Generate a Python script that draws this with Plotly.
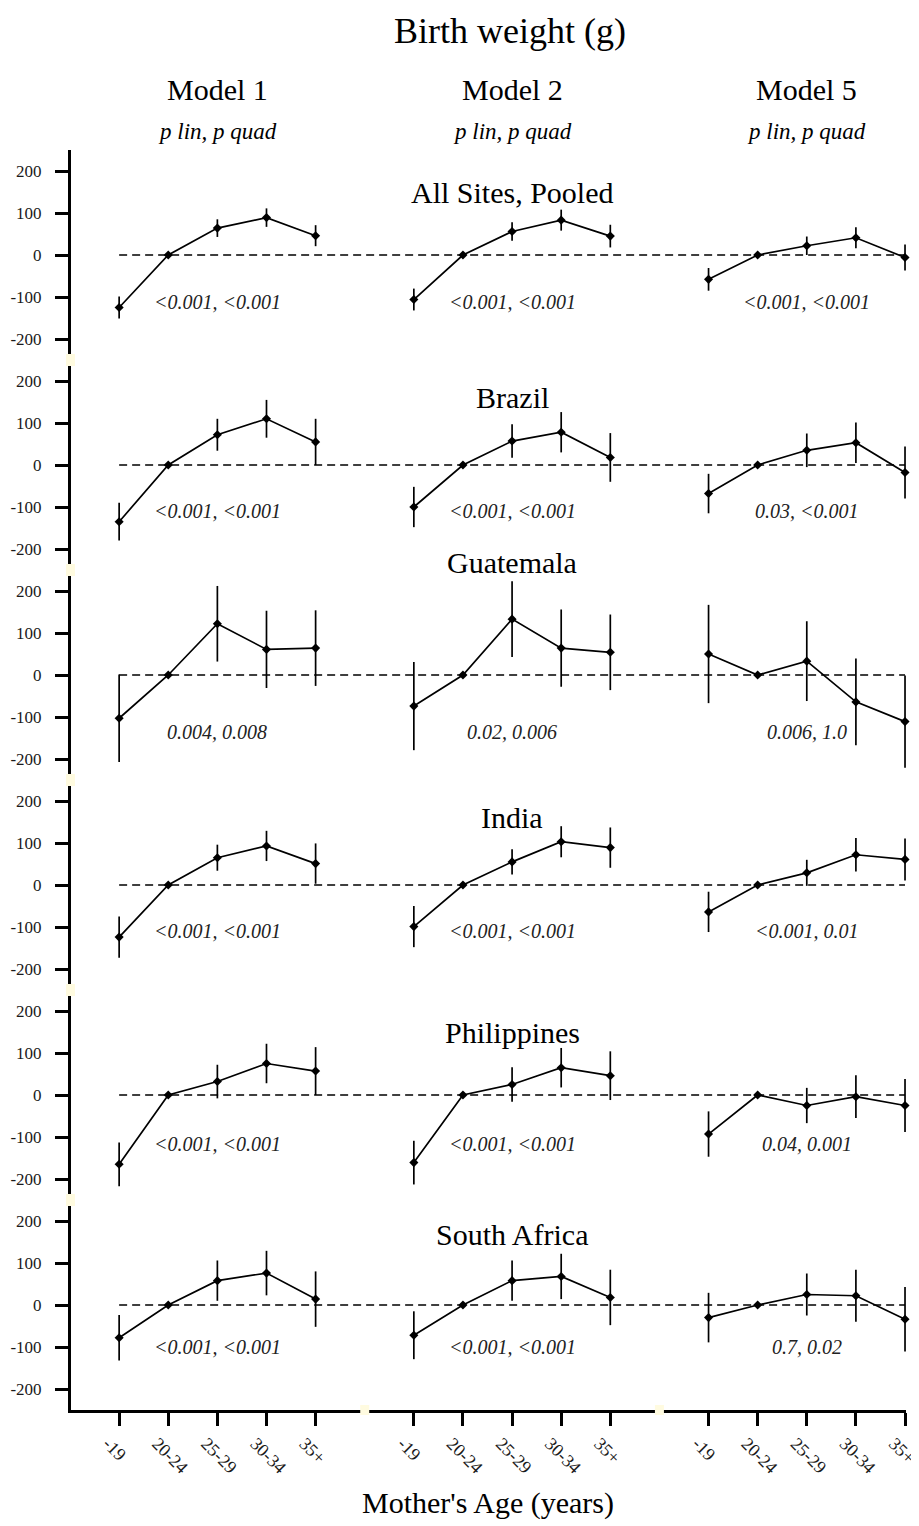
import plotly.graph_objects as go
from plotly.subplots import make_subplots

# ---------------- data ----------------
age_groups = ["-19", "20-24", "25-29", "30-34", "35+"]
models = ["Model 1", "Model 2", "Model 5"]
sites = ["All Sites, Pooled", "Brazil", "Guatemala", "India", "Philippines", "South Africa"]

# estimates (g) per model [Model 1, Model 2, Model 5], age groups in order
pooled_est = [[-125, 0, 64, 89, 46], [-106, 0, 56, 83, 45], [-58, 0, 22, 41, -6]]
pooled_err = [[26, 0, 21, 22, 25], [26, 0, 22, 25, 27], [27, 0, 22, 25, 31]]

brazil_est = [[-135, 0, 72, 110, 55], [-100, 0, 57, 78, 18], [-68, 0, 35, 53, -18]]
brazil_err = [[45, 0, 38, 45, 55], [48, 0, 40, 48, 58], [47, 0, 40, 48, 62]]

guatemala_est = [[-103, 0, 122, 61, 64], [-74, 0, 133, 64, 54], [50, 0, 33, -64, -111]]
guatemala_err = [[104, 0, 90, 92, 90], [105, 0, 90, 92, 90], [117, 0, 95, 103, 110]]

india_est = [[-124, 0, 65, 93, 51], [-99, 0, 55, 103, 89], [-64, 0, 29, 72, 61]]
india_err = [[49, 0, 31, 36, 48], [49, 0, 30, 37, 48], [48, 0, 31, 40, 50]]

philippines_est = [[-165, 0, 32, 75, 57], [-161, 0, 25, 65, 46], [-93, 0, -25, -4, -25]]
philippines_err = [[52, 0, 40, 47, 57], [52, 0, 41, 47, 58], [54, 0, 42, 51, 63]]

southafrica_est = [[-78, 0, 58, 76, 14], [-72, 0, 58, 68, 18], [-30, 0, 25, 22, -34]]
southafrica_err = [[54, 0, 48, 53, 66], [57, 0, 48, 54, 66], [59, 0, 50, 62, 77]]

pooled_p = ["<0.001, <0.001", "<0.001, <0.001", "<0.001, <0.001"]
brazil_p = ["<0.001, <0.001", "<0.001, <0.001", "0.03, <0.001"]
guatemala_p = ["0.004, 0.008", "0.02, 0.006", "0.006, 1.0"]
india_p = ["<0.001, <0.001", "<0.001, <0.001", "<0.001, 0.01"]
philippines_p = ["<0.001, <0.001", "<0.001, <0.001", "0.04, 0.001"]
southafrica_p = ["<0.001, <0.001", "<0.001, <0.001", "0.7, 0.02"]

y_ticks = [-200, -100, 0, 100, 200]
y_range = [-250, 250]

# ---------------- layout helpers (styling / placement only) ----------------
OFF = 8                      # page body margin
W, H = 919, 1526 - OFF
# target pixel positions in the window
PL, PR, PT, PB = 71, 906, 150, 1410
L, R, T, B = PL - OFF, (W + OFF) - PR, PT - OFF, (H + OFF) - PB
title_y = [148, 160, 268, 160, 150, 167]       # row title heights (data units)
pval_y = [-112, -110, -136, -110, -117, -100]  # p-value text heights (data units)

site_est = [pooled_est, brazil_est, guatemala_est, india_est, philippines_est, southafrica_est]
site_err = [pooled_err, brazil_err, guatemala_err, india_err, philippines_err, southafrica_err]
site_p = [pooled_p, brazil_p, guatemala_p, india_p, philippines_p, southafrica_p]

n_age = len(age_groups)
gap = n_age + 1
positions = [[m * gap + i + 1 for i in range(n_age)] for m in range(len(models))]
all_pos = [p for grp in positions for p in grp]
group_center = [sum(grp) / len(grp) for grp in positions]
x_range = [0.02, all_pos[-1] + 0.02]

FONT = "Liberation Serif"

fig = make_subplots(rows=len(sites), cols=1, shared_xaxes=True, vertical_spacing=0)


def dom(v):
    return (v - y_range[0]) / (y_range[1] - y_range[0])


for r in range(len(sites)):
    row = r + 1
    fig.add_trace(go.Scatter(
        x=[all_pos[0], all_pos[-1]], y=[0, 0], mode="lines",
        line=dict(color="black", width=1.5, dash="8px,5px"),
        hoverinfo="skip", showlegend=False, cliponaxis=False), row=row, col=1)
    for m in range(len(models)):
        fig.add_trace(go.Scatter(
            x=positions[m], y=site_est[r][m], mode="lines+markers",
            line=dict(color="black", width=1.7),
            marker=dict(symbol="diamond", size=7, color="black"),
            error_y=dict(type="data", array=site_err[r][m], visible=True,
                         color="black", thickness=1.7, width=0),
            showlegend=False, cliponaxis=False), row=row, col=1)

    ydom = "y domain" if row == 1 else f"y{row} domain"
    xref = "x" if row == 1 else f"x{row}"
    fig.add_annotation(x=group_center[1], y=dom(title_y[r]), xref=xref, yref=ydom,
                       text=sites[r], showarrow=False, xanchor="center", yanchor="middle",
                       font=dict(family=FONT, size=30, color="black"))
    for m in range(len(models)):
        fig.add_annotation(x=group_center[m], y=dom(pval_y[r]), xref=xref, yref=ydom,
                           text=f"<i>{site_p[r][m]}</i>", showarrow=False,
                           xanchor="center", yanchor="middle",
                           font=dict(family=FONT, size=20, color="#222222"))

    fig.update_yaxes(row=row, col=1, range=y_range, tickvals=y_ticks,
                     ticktext=[str(v) for v in y_ticks], automargin=False,
                     showline=True, linewidth=3, linecolor="black",
                     ticks="outside", ticklen=13, tickwidth=3, tickcolor="black",
                     showgrid=False, zeroline=False, ticklabelstandoff=10,
                     tickfont=dict(family=FONT, size=17, color="#1a1a1a"))
    fig.update_xaxes(row=row, col=1, range=x_range, showgrid=False, automargin=False,
                     zeroline=False, showline=False, ticks="")

last = len(sites)
fig.update_xaxes(row=last, col=1, showline=True, linewidth=3, linecolor="black",
                 tickvals=all_pos, ticktext=age_groups * len(models),
                 ticks="outside", ticklen=13, tickwidth=3, tickcolor="black",
                 tickangle=45, showticklabels=True, ticklabelshift=-11,
                 ticklabeloverflow="allow",
                 tickfont=dict(family=FONT, size=18, color="#1a1a1a"))

plot_h = PB - PT
plot_w = PR - PL


def py(pix):
    return (PB - pix) / plot_h


def px(pix):
    return (pix - PL) / plot_w


fig.add_annotation(x=px(510), y=py(31), xref="paper", yref="paper",
                   text="Birth weight (g)", showarrow=False,
                   xanchor="center", yanchor="middle",
                   font=dict(family=FONT, size=36, color="black"))
for m in range(len(models)):
    fig.add_annotation(x=group_center[m], y=py(90), xref="x", yref="paper",
                       text=models[m], showarrow=False,
                       xanchor="center", yanchor="middle",
                       font=dict(family=FONT, size=30, color="black"))
    fig.add_annotation(x=group_center[m], y=py(131), xref="x", yref="paper",
                       text="<i>p lin, p quad</i>", showarrow=False,
                       xanchor="center", yanchor="middle",
                       font=dict(family=FONT, size=23, color="black"))
fig.add_annotation(x=px(488), y=py(1503), xref="paper", yref="paper",
                   text="Mother's Age (years)", showarrow=False,
                   xanchor="center", yanchor="middle",
                   font=dict(family=FONT, size=30, color="black"))

# small pale marks at panel joins (as in the source image)
shapes = []
for k in range(1, len(sites)):
    yc = py(PT + k * plot_h / len(sites))
    shapes.append(dict(type="rect", xref="paper", yref="paper",
                       x0=-5 / plot_w, x1=4 / plot_w,
                       y0=yc - 6 / plot_h, y1=yc + 6 / plot_h,
                       fillcolor="#fffbe0", line=dict(width=0), layer="above"))
x_span = x_range[1] - x_range[0]
for m in range(1, len(models)):
    xc = (positions[m - 1][-1] + positions[m][0]) / 2
    shapes.append(dict(type="rect", xref="x6", yref="paper",
                       x0=xc - 4.5 / plot_w * x_span, x1=xc + 4.5 / plot_w * x_span,
                       y0=-5 / plot_h, y1=5 / plot_h,
                       fillcolor="#fffbe0", line=dict(width=0), layer="above"))

fig.update_layout(width=W, height=H, margin=dict(l=L, r=R, t=T, b=B, autoexpand=False),
                  paper_bgcolor="white", plot_bgcolor="white",
                  shapes=shapes, showlegend=False,
                  font=dict(family=FONT, color="black"))

fig.write_html("out.html")
